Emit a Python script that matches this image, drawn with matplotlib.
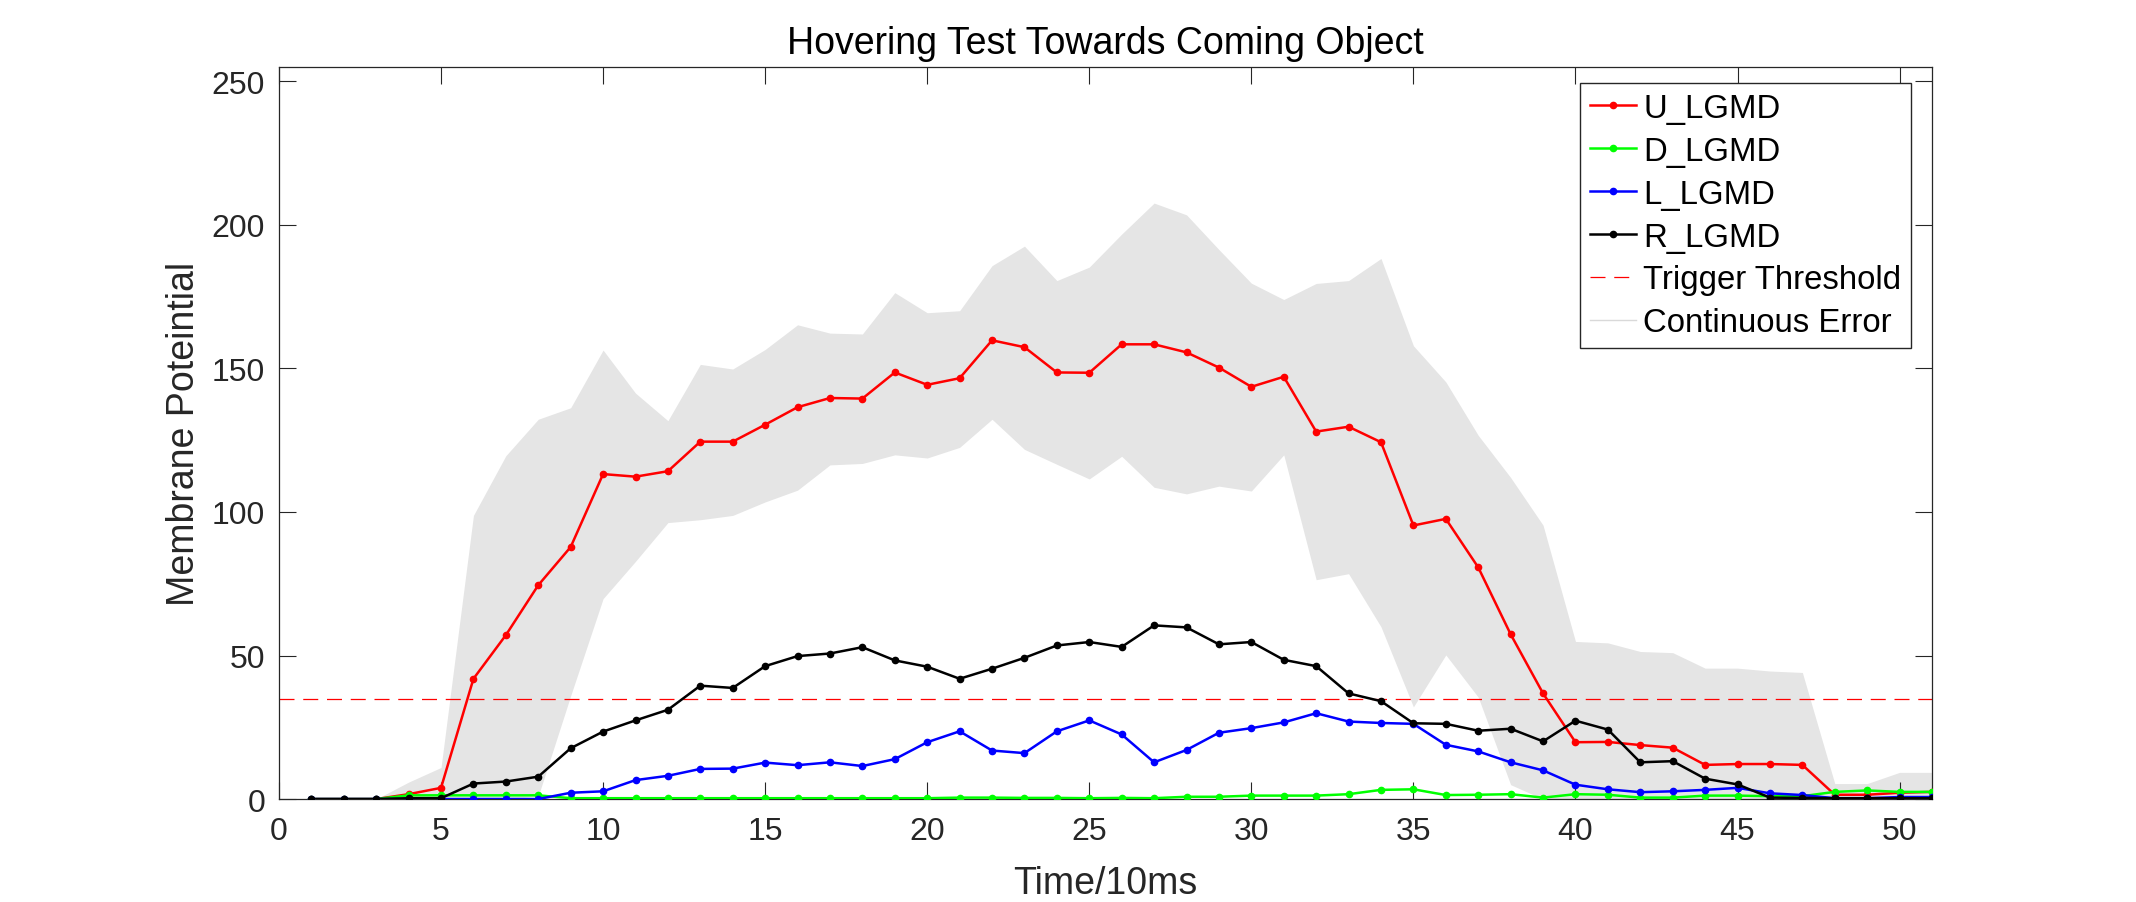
import numpy as np
import matplotlib
matplotlib.use("Agg")
import matplotlib.pyplot as plt
from matplotlib.lines import Line2D

# time steps (x 10ms)
t = np.arange(1, 52)

u_lgmd = [0, 0, 0, 1.7, 3.9, 41.9, 57.1, 74.5, 87.8, 113.2,
          112.3, 114.2, 124.5, 124.5, 130.4, 136.5, 139.7, 139.5, 148.6, 144.3,
          146.6, 159.8, 157.4, 148.6, 148.5, 158.4, 158.4, 155.6, 150.3, 143.6,
          147.1, 128.0, 129.7, 124.3, 95.3, 97.6, 80.7, 57.4, 36.8, 19.8,
          19.9, 18.8, 17.9, 11.9, 12.2, 12.2, 11.9, 1.5, 1.5, 2.2, 2.5]
d_lgmd = [0, 0, 0, 1.3, 1.3, 1.3, 1.3, 1.3, 0.3, 0.3,
          0.3, 0.3, 0.3, 0.3, 0.3, 0.3, 0.3, 0.3, 0.3, 0.3,
          0.5, 0.5, 0.4, 0.4, 0.3, 0.4, 0.3, 0.8, 0.8, 1.2,
          1.2, 1.2, 1.7, 3.2, 3.4, 1.4, 1.5, 1.7, 0.5, 1.7,
          1.5, 0.5, 0.5, 1.2, 1.2, 1.0, 1.0, 2.5, 3.0, 2.5, 2.5]
l_lgmd = [0, 0, 0, 0, 0, 0, 0, 0, 2.2, 2.7,
          6.6, 8.1, 10.5, 10.6, 12.7, 11.8, 12.8, 11.5, 13.9, 19.8,
          23.6, 16.9, 16.0, 23.6, 27.4, 22.5, 12.8, 17.1, 23.1, 24.7,
          26.7, 29.9, 27.0, 26.5, 26.2, 18.9, 16.6, 12.8, 10.0, 5.0,
          3.4, 2.4, 2.7, 3.2, 3.9, 2.0, 1.4, 0.3, 0.3, 0.7, 0.7]
r_lgmd = [0, 0, 0, 0.3, 0.3, 5.4, 6.1, 7.8, 17.7, 23.5,
          27.4, 31.1, 39.5, 38.7, 46.3, 49.8, 50.7, 52.9, 48.3, 46.1,
          41.9, 45.4, 49.2, 53.5, 54.7, 53.0, 60.5, 59.8, 53.9, 54.7,
          48.5, 46.3, 36.8, 34.1, 26.4, 26.2, 23.8, 24.5, 20.1, 27.3,
          24.2, 12.8, 13.2, 7.1, 5.1, 0.5, 0.4, 0.3, 0.3, 0.3, 0.3]

# continuous error band
err_upper = [0, 0, 0, 5.9, 11, 98.8, 119.6, 132.3, 136.3, 156.4,
             141.4, 131.8, 151.4, 149.8, 156.6, 165.2, 162.3, 162.0, 176.4, 169.4,
             170.1, 185.8, 192.6, 180.6, 185.3, 196.8, 207.6, 203.5, 191.4, 179.7,
             174.0, 179.6, 180.6, 188.3, 157.9, 145.3, 126.7, 112.0, 95.4, 54.9,
             54.4, 51.4, 51.0, 45.6, 45.6, 44.6, 44.1, 5.4, 5.4, 9.3, 9.3]
err_lower = [0, 0, 0, 0, 0, 0, 0, 1, 36, 69.8,
             82.8, 96.3, 97.3, 98.8, 103.5, 107.6, 116.4, 116.9, 119.9, 118.8,
             122.5, 132.3, 121.8, 116.6, 111.5, 119.4, 108.6, 106.3, 109.0, 107.3,
             119.9, 76.4, 78.5, 60.0, 32.1, 50.2, 35.5, 5, 0, 0,
             0, 0, 0, 0, 0, 0, 0, 0, 0, 0, 0]

threshold = 35

plt.rcParams['font.family'] = ['Liberation Sans', 'DejaVu Sans']

fig = plt.figure(figsize=(21.36, 9.03), dpi=100)
ax = fig.add_axes([0.1306, 0.114, 0.7739, 0.8107])

ax.fill_between(t, err_lower, err_upper, color='#e5e5e5', linewidth=0, zorder=1)

style = dict(marker='o', markersize=4.5, linewidth=1.8, zorder=3)
ax.plot(t, u_lgmd, color='#ff0000', label='U_LGMD', **style)
ax.plot(t, d_lgmd, color='#00ff00', label='D_LGMD', **style)
ax.plot(t, l_lgmd, color='#0000ff', label='L_LGMD', **style)
ax.plot(t, r_lgmd, color='#000000', label='R_LGMD', **style)
ax.axhline(threshold, color='#ff0000', linestyle=(0, (12, 7)), linewidth=0.9,
           zorder=2, label='Trigger Threshold')

handles, labels = ax.get_legend_handles_labels()
handles.append(Line2D([], [], color='#d9d9d9', linewidth=1.0))
labels.append('Continuous Error')
leg = ax.legend(handles, labels, loc='upper right', fontsize=23.7,
                bbox_to_anchor=(0.9873, 0.978), frameon=True, fancybox=False,
                framealpha=1, edgecolor='#262626', handlelength=1.41,
                handletextpad=0.2, labelspacing=0.36, borderpad=0.3,
                borderaxespad=0)
leg.get_frame().set_linewidth(1.0)

ax.set_xlim(0, 51)
ax.set_ylim(0, 255)
ax.set_xticks(np.arange(0, 51, 5))
ax.set_yticks(np.arange(0, 251, 50))
ax.tick_params(direction='in', top=True, right=True, length=12, width=0.8,
               color='#262626', labelcolor='#262626', labelsize=23)
ax.tick_params(axis='x', pad=12)
ax.tick_params(axis='y', pad=10)
for sp in ax.spines.values():
    sp.set_color('#262626')
    sp.set_linewidth(0.9)

ax.set_xlabel('Time/10ms', fontsize=27, color='#262626', labelpad=14)
ax.set_ylabel('Membrane Poteintial', fontsize=27, color='#262626', labelpad=7)
ax.set_title('Hovering Test Towards Coming Object', fontsize=27, pad=10)

fig.savefig('out.png', dpi=100, facecolor='white')
